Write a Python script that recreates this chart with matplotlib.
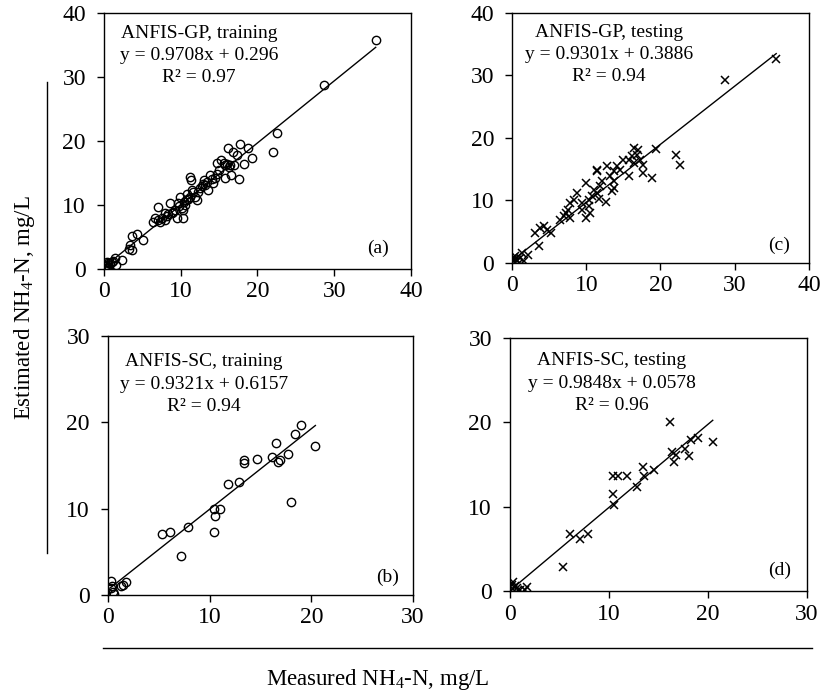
import matplotlib
matplotlib.use("Agg")
import matplotlib.pyplot as plt
from matplotlib.lines import Line2D

plt.rcParams['font.family'] = ['Liberation Serif', 'DejaVu Serif']
plt.rcParams['mathtext.fontset'] = 'custom'
plt.rcParams['mathtext.rm'] = 'Liberation Serif'
plt.rcParams['mathtext.it'] = 'Liberation Serif:italic'

# (a) ANFIS-GP, training
gp_train_x = [35.4, 28.6, 22.6, 22.0, 19.3, 18.8, 17.7, 18.3, 17.6, 16.1, 16.85, 17.3,
              15.8, 16.4, 15.3, 14.7, 15.8, 16.6, 14.7, 13.8, 13.4, 13.0, 14.2, 13.6,
              12.5, 11.2, 11.4, 10.8, 11.6, 12.1, 11.2, 10.7, 9.9, 9.7, 10.3, 10.6,
              9.2, 8.6, 8.8, 7.9, 7.5, 7.1, 6.6, 6.4, 7.9, 9.5, 10.3, 7.3, 5.1, 4.3,
              3.6, 3.4, 3.6, 3.2, 2.3, 1.4, 1.6, 0.35, 0.55, 0.1, 0.8, 0.3,
              16.0, 16.3, 15.6, 16.9, 14.1, 13.2, 12.8, 12.2, 11.8, 11.0, 10.4, 10.1,
              9.0, 8.2, 7.0, 14.4, 15.0, 12.9, 11.5, 10.9, 9.8, 8.4, 0.2, 0.5, 1.0,
              0.4, 0.7, 1.2]
gp_train_y = [35.8, 28.75, 21.2, 18.3, 17.4, 18.85, 19.6, 16.35, 14.0, 18.85, 18.3, 17.8,
              16.25, 16.25, 17.0, 16.6, 14.2, 14.7, 14.9, 14.7, 13.6, 13.9, 13.4, 12.3,
              12.6, 14.4, 13.9, 11.8, 12.1, 10.8, 11.3, 10.8, 11.3, 10.3, 9.2, 10.0,
              9.2, 10.3, 8.7, 8.7, 7.9, 9.7, 7.9, 7.4, 7.7, 7.9, 7.9, 7.4, 4.6, 5.4,
              5.1, 3.75, 3.0, 3.2, 1.4, 1.7, 0.6, 1.15, 0.35, 0.1, 0.9, 0.6,
              16.4, 15.9, 16.6, 16.2, 14.0, 13.2, 12.9, 12.0, 11.2, 11.0, 10.5, 9.6,
              8.9, 8.3, 7.6, 14.3, 15.5, 13.3, 12.4, 10.9, 9.9, 8.6, 0.4, 0.9, 1.1,
              0.2, 0.3, 1.3]

# (c) ANFIS-GP, testing
gp_test_x = [35.6, 28.7, 22.1, 22.6, 18.8, 19.4, 17.7, 17.6, 16.8, 16.4, 17.0, 17.3,
             16.1, 15.7, 16.4, 15.8, 15.0, 14.1, 14.6, 13.7, 12.8, 13.2, 13.7, 13.8,
             13.5, 11.4, 11.4, 12.1, 11.9, 11.0, 11.4, 10.8, 12.6, 11.7, 10.3, 9.9,
             10.3, 10.5, 9.4, 8.7, 8.3, 7.8, 7.6, 7.2, 7.8, 7.0, 6.5, 9.9, 9.4,
             5.2, 4.3, 3.8, 4.7, 3.1, 3.6, 2.2, 1.3, 1.1, 0.45, 0.2, 0.7, 0.9, 0.1, 1.6]
gp_test_y = [32.6, 29.2, 17.3, 15.6, 13.6, 18.3, 15.7, 14.4, 17.3, 18.4, 18.1, 16.5,
             17.1, 16.5, 16.0, 13.9, 16.5, 15.5, 14.9, 14.7, 15.5, 13.9, 13.1, 12.0,
             11.5, 14.9, 14.7, 13.1, 12.3, 11.7, 11.2, 10.7, 9.7, 10.2, 10.1, 12.8,
             9.1, 8.0, 8.5, 11.2, 10.1, 9.6, 8.5, 8.0, 7.2, 7.5, 6.9, 7.2, 9.6,
             4.8, 5.9, 5.6, 5.3, 4.8, 2.7, 1.3, 1.6, 0.8, 1.1, 0.3, 0.5, 0.0, 0.8, 0.3]

# (b) ANFIS-SC, training
sc_train_x = [19.0, 18.4, 20.4, 16.5, 17.7, 16.1, 16.9, 16.7, 14.7, 13.4, 13.4, 12.9,
              11.8, 18.0, 10.4, 11.0, 10.5, 10.4, 7.9, 6.1, 5.3, 7.2, 1.8, 1.5, 1.3,
              0.33, 0.43, 0.5, 0.55, 0.3]
sc_train_y = [19.65, 18.6, 17.3, 17.6, 16.3, 16.0, 15.6, 15.4, 15.7, 15.6, 15.3, 13.1,
              12.9, 10.8, 10.0, 10.0, 9.2, 7.3, 7.9, 7.3, 7.1, 4.5, 1.5, 1.1, 1.0,
              1.6, 1.0, 0.4, 0.1, 0.8]

# (d) ANFIS-SC, testing
sc_test_x = [16.2, 20.5, 19.0, 18.35, 17.7, 18.1, 16.4, 16.8, 16.6, 14.6, 13.5, 13.4,
             12.8, 11.8, 10.9, 10.4, 10.4, 10.5, 7.9, 7.1, 6.1, 5.4, 1.7, 1.5, 0.7,
             0.35, 0.2, 0.5, 1.0, 0.85, 0.3]
sc_test_y = [20.0, 17.7, 18.2, 17.9, 16.9, 16.0, 16.5, 16.1, 15.3, 14.3, 13.7, 14.7,
             12.3, 13.7, 13.7, 13.6, 11.5, 10.2, 6.8, 6.2, 6.8, 2.9, 0.5, 0.15, 0.3,
             1.1, 0.7, 0.6, 0.15, 0.1, 0.2]

titles = ["ANFIS-GP, training", "ANFIS-GP, testing", "ANFIS-SC, training", "ANFIS-SC, testing"]
slopes = [0.9708, 0.9301, 0.9321, 0.9848]
intercepts = [0.296, 0.3886, 0.6157, 0.0578]
slope_txt = ["0.9708", "0.9301", "0.9321", "0.9848"]
intercept_txt = ["0.296", "0.3886", "0.6157", "0.0578"]
r2_txt = ["0.97", "0.94", "0.94", "0.96"]
fit_ranges = [(0, 35.4), (0, 35.6), (0.2, 20.4), (0, 20.5)]
panel_tags = ["(a)", "(c)", "(b)", "(d)"]
axis_max = [40, 40, 30, 30]

panels = [(gp_train_x, gp_train_y, 'o'), (gp_test_x, gp_test_y, 'x'),
          (sc_train_x, sc_train_y, 'o'), (sc_test_x, sc_test_y, 'x')]

rects = [[0.1265, 0.613, 0.3735, 0.368],
         [0.623, 0.6216, 0.361, 0.3597],
         [0.1314, 0.1439, 0.371, 0.3727],
         [0.6204, 0.1496, 0.361, 0.364]]
text_pos = [(0.31, [0.922, 0.836, 0.75]),
            (0.327, [0.92, 0.832, 0.744]),
            (0.315, [0.90, 0.811, 0.726]),
            (0.343, [0.913, 0.822, 0.735])]
tag_pos = [(0.892, 0.082), (0.90, 0.07), (0.918, 0.07), (0.91, 0.083)]

fig = plt.figure(figsize=(8.22, 6.95), dpi=100)

for i, (xs, ys, mk) in enumerate(panels):
    ax = fig.add_axes(rects[i])
    if mk == 'o':
        ax.plot(xs, ys, 'o', mfc='none', mec='black', ms=6, mew=1.0, zorder=3)
    else:
        ax.plot(xs, ys, 'x', color='black', ms=6, mew=1.1, zorder=3)
    x0, x1 = fit_ranges[i]
    ax.plot([x0, x1], [slopes[i] * x0 + intercepts[i], slopes[i] * x1 + intercepts[i]],
            color='black', lw=1.0, zorder=2)
    m = axis_max[i]
    ax.set_xlim(0, m)
    ax.set_ylim(0, m)
    ax.set_xticks(range(0, m + 1, 10))
    ax.set_yticks(range(0, m + 1, 10))
    ax.tick_params(direction='out', length=5, width=1, labelsize=17)
    ax.tick_params(axis='x', pad=4)
    ax.tick_params(axis='y', pad=8)
    for sp in ax.spines.values():
        sp.set_linewidth(1.0)
    tx, tys = text_pos[i]
    lines = [titles[i], f"y = {slope_txt[i]}x + {intercept_txt[i]}", f"R² = {r2_txt[i]}"]
    for line, ty in zip(lines, tys):
        ax.text(tx, ty, line, transform=ax.transAxes, ha='center', va='center', fontsize=14)
    ax.text(tag_pos[i][0], tag_pos[i][1], panel_tags[i], transform=ax.transAxes,
            ha='center', va='center', fontsize=14)

fig.add_artist(Line2D([0.057, 0.057], [0.204, 0.882], color='black', lw=1.0))
fig.add_artist(Line2D([0.125, 0.988], [0.068, 0.068], color='black', lw=1.0))
fig.text(0.030, 0.558, "Estimated NH$_4$-N, mg/L", rotation=90, ha='center', va='center', fontsize=16.5)
fig.text(0.46, 0.0216, "Measured NH$_4$-N, mg/L", ha='center', va='center', fontsize=16.5)

fig.savefig("out.png", dpi=100)
